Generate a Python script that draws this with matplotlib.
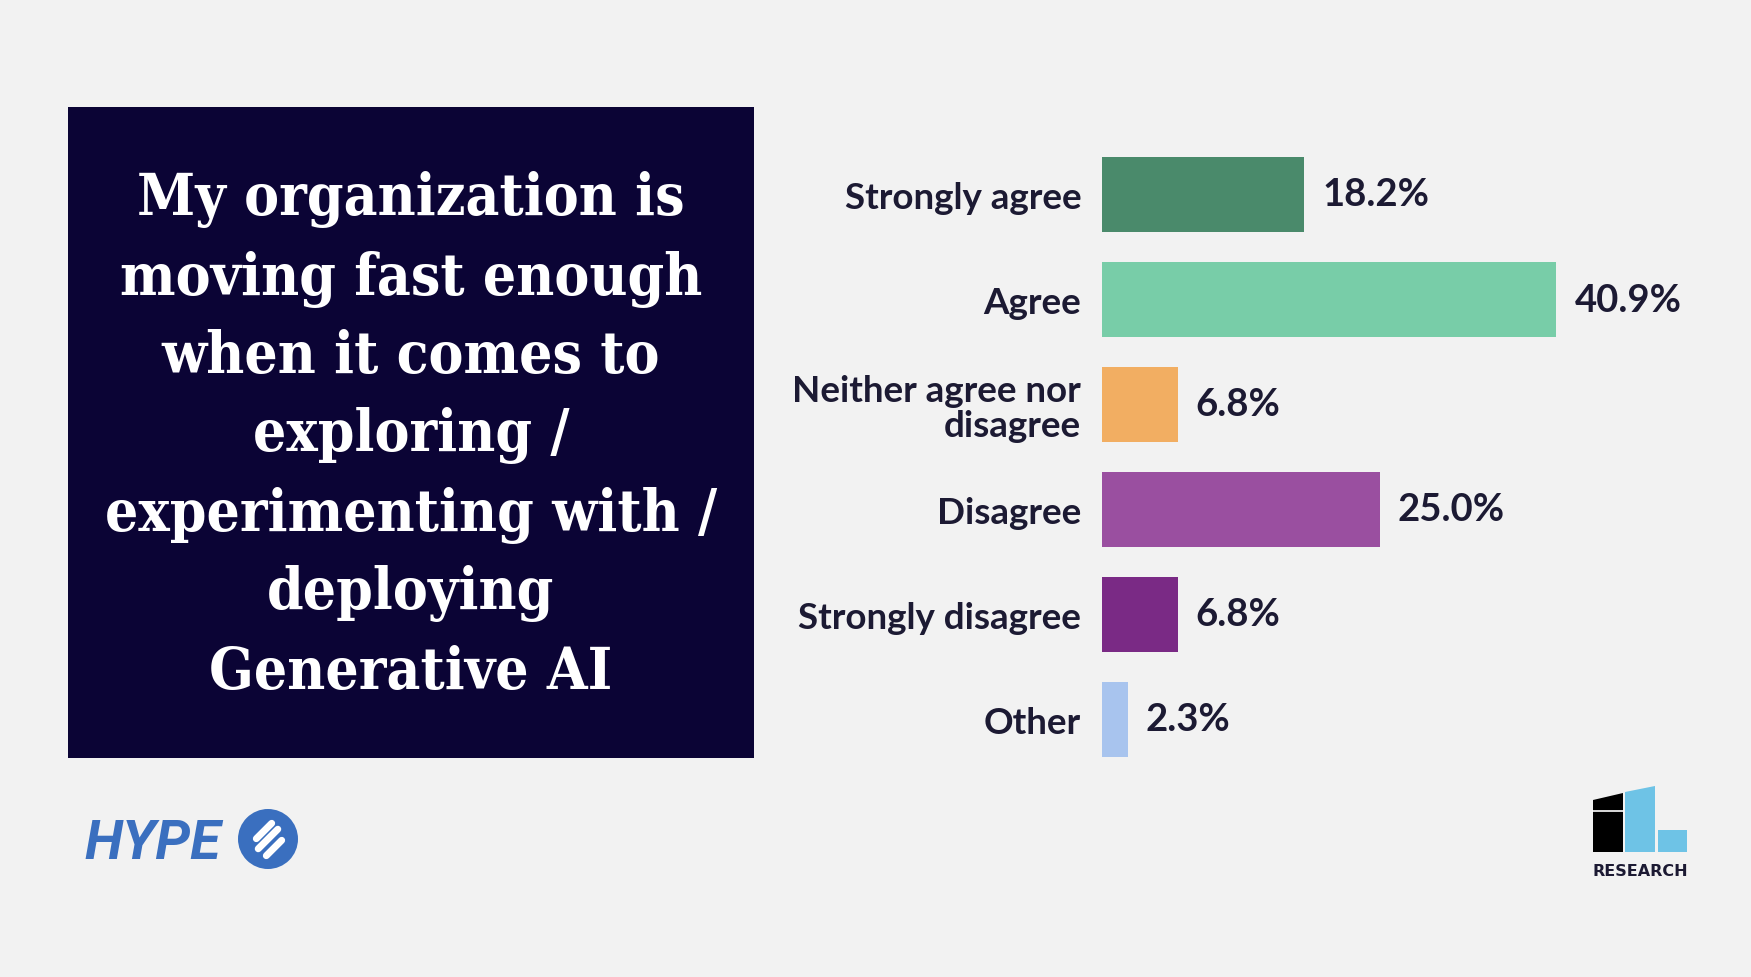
import matplotlib
matplotlib.use('Agg')
import matplotlib.pyplot as plt
from matplotlib.patches import Rectangle, Polygon, Circle

categories = ['Strongly agree', 'Agree', 'Neither agree nor\ndisagree',
              'Disagree', 'Strongly disagree', 'Other']
values = [18.2, 40.9, 6.8, 25.0, 6.8, 2.3]
colors = ['#4a8a6b', '#78cda8', '#f2ae62', '#9a4fa0', '#7a2a85', '#a8c4ee']
question = ('My organization is\nmoving fast enough\nwhen it comes to\nexploring /\n'
            'experimenting with /\ndeploying\nGenerative AI')

W, H = 1751, 978
bg = '#f2f2f2'
ink = '#1c1a33'

fig = plt.figure(figsize=(W / 100, H / 100), dpi=100, facecolor=bg)

# overlay in pixel coords for the decorations
deco = fig.add_axes([0, 0, 1, 1])
deco.set_xlim(0, W)
deco.set_ylim(H, 0)
deco.axis('off')

deco.add_patch(Rectangle((68, 108), 686, 651, facecolor='#0b0435', edgecolor='none'))
deco.text(411, 436, question, ha='center', va='center', color='white',
          family='DejaVu Serif', stretch='condensed', weight='bold',
          fontsize=42, linespacing=1.5)

# HYPE logo
deco.text(84, 844, 'HYPE', ha='left', va='center', color='#3a6fbf',
          family='Roboto', weight='bold', style='italic', fontsize=40)
deco.add_patch(Circle((268, 840), 30, facecolor='#3a6fbf', edgecolor='none'))
for dx, dy, L in [(-4, -8, 11), (0, 0, 14), (6, 9, 11)]:
    cx, cy = 268 + dx, 840 + dy
    deco.plot([cx - L * 0.7, cx + L * 0.7], [cy + L * 0.7, cy - L * 0.7],
              color='white', lw=5, solid_capstyle='round')

# research logo
deco.add_patch(Polygon([(1593, 801), (1623, 794), (1623, 853), (1593, 853)],
                       facecolor='black', edgecolor='none'))
deco.plot([1593, 1623], [812, 812], color='white', lw=1.2)
deco.add_patch(Polygon([(1625, 793), (1655, 787), (1655, 853), (1625, 853)],
                       facecolor='#6ec3e6', edgecolor='none'))
deco.add_patch(Rectangle((1658, 831), 29, 22, facecolor='#6ec3e6', edgecolor='none'))
deco.text(1640, 872, 'RESEARCH', ha='center', va='center', color='#1c1a33',
          family='DejaVu Sans', weight='bold', fontsize=11.5)

# bar chart
ax = fig.add_axes([1102 / W, 1 - 773 / H, 560 / W, 630 / H])
ax.set_facecolor('none')
y = list(range(len(categories)))
ax.barh(y, values, height=0.72, color=colors)
ax.set_xlim(0, 50.4)
ax.set_ylim(len(categories) - 0.5, -0.5)
ax.set_yticks(y)
ax.set_yticklabels(categories, family='Lato', weight='bold', fontsize=26.5,
                   color=ink, ha='right', linespacing=1.05)
ax.tick_params(axis='y', length=0, pad=15)
ax.set_xticks([])
for s in ax.spines.values():
    s.set_visible(False)
for yi, v in zip(y, values):
    ax.annotate(f'{v:.1f}%', (v, yi), xytext=(13, 0), textcoords='offset points',
                ha='left', va='center', family='Lato', weight='bold',
                fontsize=27.5, color=ink)

fig.savefig('out.png', dpi=100, facecolor=bg)
